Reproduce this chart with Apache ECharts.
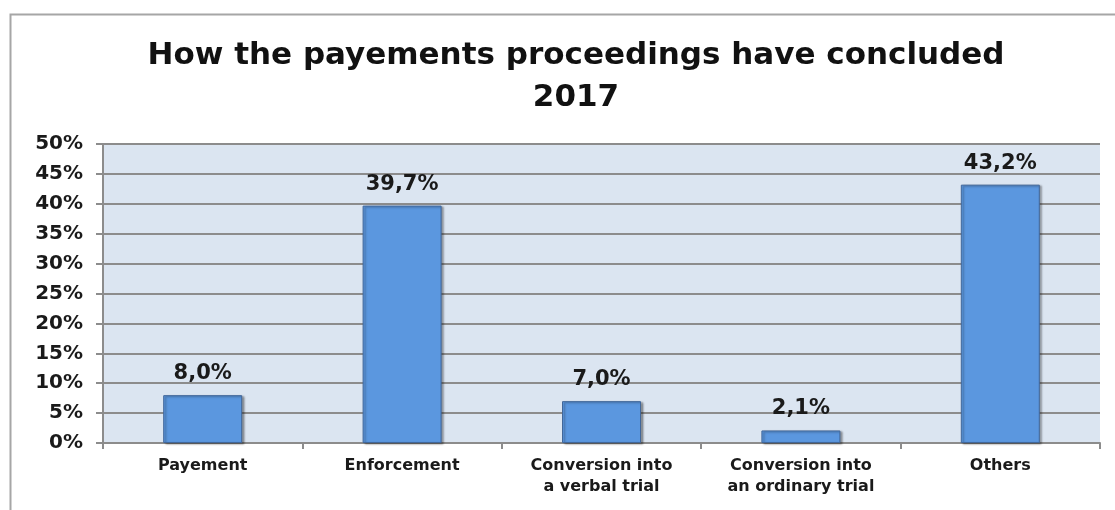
<!DOCTYPE html>
<html>
<head>
<meta charset="utf-8">
<script src="https://cdn.jsdelivr.net/npm/echarts@6/dist/echarts.min.js"></script>
<style>
html,body{margin:0;padding:0;background:#fff;}
#chart{width:1115px;height:510px;}
</style>
</head>
<body>
<div id="chart"></div>
<script>
var categories = ['Payement', 'Enforcement', 'Conversion into\na verbal trial', 'Conversion into\nan ordinary trial', 'Others'];
var values = [8.0, 39.7, 7.0, 2.1, 43.2];
var titleLines = ['How the payements proceedings have concluded', '2017'];

var chart = echarts.init(document.getElementById('chart'));
var FONT = '"DejaVu Sans", Verdana, sans-serif';
chart.setOption({
  animation: false,
  backgroundColor: '#ffffff',
  graphic: [{
    type: 'rect', silent: true, z: -10,
    shape: { x: 10.5, y: 14.5, width: 1200, height: 600 },
    style: { fill: 'none', stroke: '#a6a6a6', lineWidth: 2 }
  }],
  title: {
    text: titleLines.join('\n'),
    left: 571, top: 30, textAlign: 'center',
    textStyle: { fontFamily: FONT, fontSize: 31, fontWeight: 'bold', color: '#111', lineHeight: 42 }
  },
  grid: { left: 103, top: 144, right: 15, bottom: 67, containLabel: false,
          show: true, backgroundColor: '#dbe5f1', borderWidth: 0 },
  xAxis: {
    type: 'category', data: categories,
    axisLine: { lineStyle: { color: '#8c8c8c', width: 2 } },
    axisTick: { show: true, length: 6, lineStyle: { color: '#8c8c8c', width: 2 } },
    axisLabel: { fontFamily: FONT, fontSize: 16, fontWeight: 'bold', color: '#1a1a1a', margin: 12, lineHeight: 21, interval: 0 }
  },
  yAxis: {
    type: 'value', min: 0, max: 50, interval: 5,
    axisLine: { show: true, lineStyle: { color: '#8c8c8c', width: 2 } },
    axisTick: { show: true, length: 7, lineStyle: { color: '#8c8c8c', width: 2 } },
    splitLine: { lineStyle: { color: '#8c8c8c', width: 2 } },
    axisLabel: { fontFamily: FONT, fontSize: 20, fontWeight: 'bold', color: '#1a1a1a', margin: 20,
                 formatter: function (v) { return v + '%'; } }
  },
  series: [{
    type: 'bar', data: values, barWidth: 79,
    itemStyle: { color: '#5b97df', borderColor: '#41679a', borderWidth: 1,
                 shadowColor: 'rgba(0,0,0,0.35)', shadowOffsetX: 2, shadowOffsetY: 1, shadowBlur: 2 },
    label: { show: true, position: 'top', distance: 11, fontFamily: FONT, fontSize: 21, fontWeight: 'bold', color: '#1a1a1a',
             formatter: function (p) { return p.value.toFixed(1).replace('.', ',') + '%'; } }
  }]
});
</script>
</body>
</html>
